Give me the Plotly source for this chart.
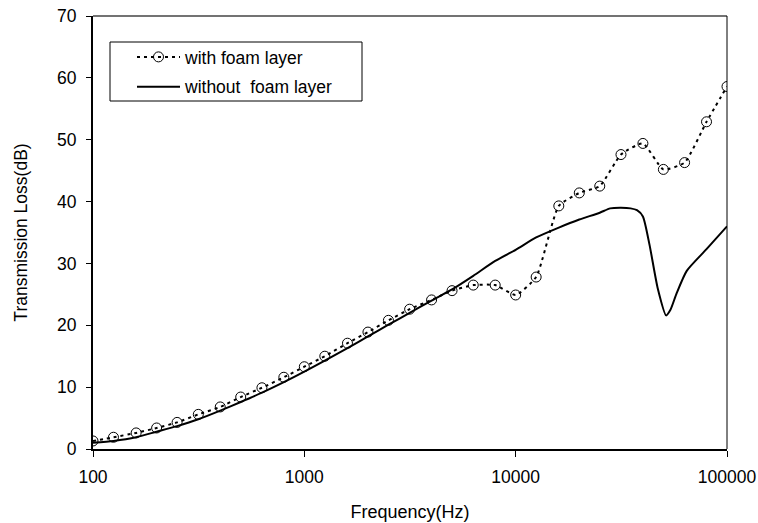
import plotly.graph_objects as go

# with foam layer (1/3-octave points)
foam_freq = [100, 125, 160, 200, 250, 315, 400, 500, 630, 800, 1000, 1250, 1600, 2000,
             2500, 3150, 4000, 5000, 6300, 8000, 10000, 12500, 16000, 20000, 25000,
             31500, 40000, 50000, 63000, 80000, 100000]
foam_tl = [1.3, 1.9, 2.6, 3.4, 4.3, 5.6, 6.8, 8.4, 9.9, 11.6, 13.3, 15.0, 17.1, 18.9,
           20.8, 22.6, 24.1, 25.6, 26.5, 26.5, 24.9, 27.8, 39.3, 41.4, 42.5,
           47.6, 49.4, 45.2, 46.3, 52.9, 58.6]

# without foam layer
bare_freq = [100, 125, 160, 200, 250, 315, 400, 500, 630, 800, 1000, 1250, 1600, 2000,
             2500, 3150, 4000, 5000, 6300, 8000, 10000, 12500, 16000, 20000, 25000,
             28000, 31500, 35000, 37500, 40000, 43000, 47000, 51500, 54000, 57800,
             64500, 80000, 100000]
bare_tl = [1.0, 1.3, 1.9, 2.8, 3.7, 4.8, 6.2, 7.6, 9.1, 10.8, 12.5, 14.3, 16.3, 18.2,
           20.1, 22.0, 24.0, 25.8, 28.0, 30.4, 32.2, 34.2, 35.8, 37.1, 38.2,
           38.9, 39.0, 38.9, 38.6, 37.6, 33.0, 26.0, 21.6, 22.5, 25.2,
           28.8, 32.3, 36.0]

x_ticks = [100, 1000, 10000, 100000]
x_labels = ["100", "1000", "10000", "100000"]

FONT = "Liberation Sans, Arial, sans-serif"
FS = 17.5

fig = go.Figure()
fig.add_trace(go.Scatter(
    x=foam_freq, y=foam_tl, mode="lines+markers", name="with foam layer",
    legendgroup="a",
    line=dict(color="black", width=2, dash="3px,4px", shape="spline", smoothing=0.5),
    marker=dict(symbol="circle-open", size=10, color="black", line=dict(width=1)),
))
fig.add_trace(go.Scatter(
    x=bare_freq, y=bare_tl, mode="lines", name="without  foam layer",
    legendgroup="b",
    line=dict(color="black", width=2, shape="spline", smoothing=0.6),
))

fig.update_layout(
    width=758, height=523,
    margin=dict(l=93, r=31, t=16, b=74),
    paper_bgcolor="white", plot_bgcolor="white",
    font=dict(family=FONT, size=FS, color="black"),
    showlegend=True,
    legend=dict(x=(132 - 93) / 634, y=(449 - 39) / 433, xanchor="left", yanchor="top",
                borderwidth=0, bgcolor="rgba(0,0,0,0)",
                font=dict(size=FS), itemwidth=43, tracegroupgap=4),
    shapes=[
        # legend frame
        dict(type="rect", xref="paper", yref="paper",
             x0=(110 - 93) / 634, x1=(362 - 93) / 634,
             y0=(449 - 101) / 433, y1=(449 - 42) / 433,
             line=dict(color="black", width=1), fillcolor="rgba(0,0,0,0)", layer="below"),
        # top & right frame lines
        dict(type="line", xref="paper", yref="paper", x0=0, x1=1, y0=1, y1=1,
             line=dict(color="#444444", width=1.5)),
        dict(type="line", xref="paper", yref="paper", x0=1, x1=1, y0=0, y1=1,
             line=dict(color="black", width=1)),
    ],
)
fig.update_xaxes(
    type="log", range=[2, 5], tickvals=x_ticks, ticktext=x_labels,
    showgrid=False, zeroline=False, showline=True, linecolor="black", linewidth=2,
    ticks="outside", ticklen=6, tickcolor="black", tickwidth=1,
    ticklabelstandoff=5, automargin=False, ticklabeloverflow="allow",
    title=dict(text="Frequency(Hz)", font=dict(size=FS + 0.5), standoff=19),
)
fig.update_yaxes(
    range=[0, 70], dtick=10, showgrid=False, zeroline=False, showline=True,
    linecolor="black", linewidth=2, ticks="outside", ticklen=5, tickcolor="black",
    tickwidth=1, ticklabelstandoff=6, automargin=False, ticklabeloverflow="allow",
    title=dict(text="Transmission Loss(dB)", font=dict(size=FS), standoff=25),
)
fig.write_html("out.html", config={"displayModeBar": False},
               post_script="document.body.style.margin='0';document.body.style.overflow='hidden';")
